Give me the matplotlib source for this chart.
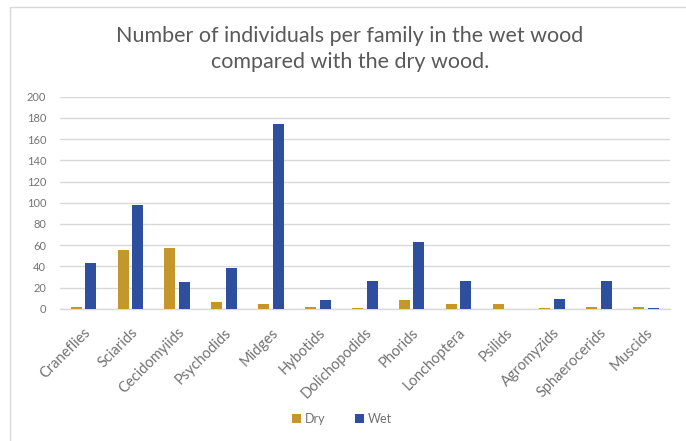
import matplotlib
matplotlib.use("Agg")
import matplotlib.pyplot as plt
from matplotlib.patches import Rectangle
import numpy as np

families = ["Craneflies", "Sciarids", "Cecidomyiids", "Psychodids", "Midges",
            "Hybotids", "Dolichopodids", "Phorids", "Lonchoptera", "Psilids",
            "Agromyzids", "Sphaerocerids", "Muscids"]
dry = [2, 55, 57, 6, 4, 2, 1, 8, 4, 4, 1, 2, 2]
wet = [43, 98, 25, 38, 174, 8, 26, 63, 26, 0, 9, 26, 1]
y_ticks = [0, 20, 40, 60, 80, 100, 120, 140, 160, 180, 200]

DRY_COLOR = "#C4962C"
WET_COLOR = "#2D4F9E"
TEXT_COLOR = "#737373"
GRID_COLOR = "#D9D9D9"

plt.rcParams["font.family"] = ["Lato", "DejaVu Sans"]

W, H = 686, 441
fig = plt.figure(figsize=(W / 100, H / 100), dpi=100)

# chart frame
frame = Rectangle((10 / W, -0.1), 1.0, 1 - 7 / H + 0.1, transform=fig.transFigure,
                  fill=False, edgecolor="#D9D9D9", linewidth=1.0)
fig.add_artist(frame)

left, right = 60 / W, 669.5 / W
bottom, top = 1 - 308.7 / H, 1 - 96.7 / H
ax = fig.add_axes([left, bottom, right - left, top - bottom])

x = np.arange(len(families))
bw = 0.235
off = 0.156
ax.bar(x - off, dry, width=bw, color=DRY_COLOR, label="Dry", zorder=3)
ax.bar(x + off, wet, width=bw, color=WET_COLOR, label="Wet", zorder=3)

ax.set_xlim(-0.5, len(families) - 0.5)
ax.set_ylim(0, 200)
ax.set_yticks(y_ticks)
ax.set_yticklabels([str(v) for v in y_ticks], fontsize=8, color=TEXT_COLOR)
ax.yaxis.grid(True, color=GRID_COLOR, linewidth=1.0, zorder=0)
ax.set_axisbelow(True)
ax.tick_params(axis="y", length=0, pad=10)
ax.tick_params(axis="x", length=0, pad=12)
ax.set_xticks(x)
ax.set_xticklabels(families, rotation=45, ha="right", rotation_mode="anchor",
                   fontsize=10.5, color=TEXT_COLOR)
for s in ["top", "right", "left"]:
    ax.spines[s].set_visible(False)
ax.spines["bottom"].set_color(GRID_COLOR)
ax.spines["bottom"].set_linewidth(1.0)

fig.text(350 / W, 1 - 36 / H,
         "Number of individuals per family in the wet wood",
         ha="center", va="center", fontsize=15.5, color="#595959")
fig.text(350 / W, 1 - 62 / H, "compared with the dry wood.",
         ha="center", va="center", fontsize=15.5, color="#595959")

fig.legend(loc="center", bbox_to_anchor=(342 / W, 1 - 419 / H), ncol=2,
           frameon=False, fontsize=9, handlelength=0.7, handleheight=0.7,
           handletextpad=0.3, columnspacing=2.4, labelcolor=TEXT_COLOR)

fig.savefig("out.png", dpi=100)
